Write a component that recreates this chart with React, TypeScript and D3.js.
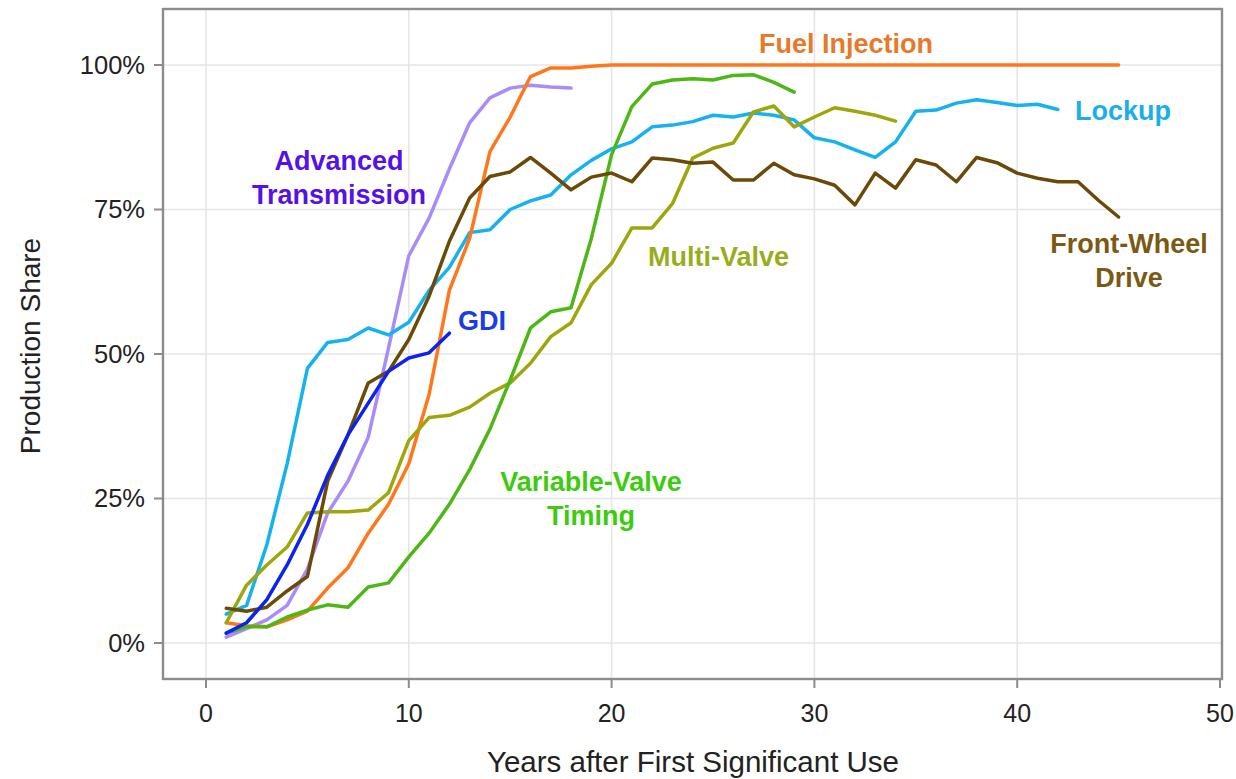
import React from "react";
import * as d3 from "d3";

// Values: production share (%) by year after first significant use (years start at 1)
const fuelInjection = [3.5, 3, 2.8, 4, 5.5, 9.5, 13, 19, 24, 31, 43, 61, 70, 85, 91, 98, 99.5, 99.5, 99.8, 100,
  100, 100, 100, 100, 100, 100, 100, 100, 100, 100, 100, 100, 100, 100, 100, 100, 100, 100, 100, 100, 100, 100, 100, 100, 100];
const lockup = [5, 6.5, 17, 31, 47.5, 52, 52.5, 54.5, 53.3, 55.5, 61, 65, 71, 71.5, 75, 76.5, 77.5, 81, 83.5, 85.5,
  86.7, 89.3, 89.6, 90.2, 91.3, 91, 91.7, 91.3, 90.5, 87.4, 86.7, 85.3, 84, 86.7, 92, 92.2, 93.4, 94, 93.5, 93, 93.2, 92.3];
const frontWheelDrive = [6, 5.5, 6.2, 9, 11.5, 28, 36, 45, 47, 52.5, 60, 69.5, 77, 80.7, 81.5, 84, 81.3, 78.4, 80.6, 81.3,
  79.8, 83.9, 83.6, 83, 83.2, 80.1, 80.1, 83, 81, 80.3, 79.2, 75.8, 81.3, 78.7, 83.6, 82.7, 79.8, 84, 83.1, 81.3, 80.4, 79.8, 79.8, 76.6, 73.7];
const multiValve = [3.5, 10, 13.5, 16.6, 22.5, 22.7, 22.7, 23, 26, 35, 39, 39.4, 40.8, 43.2, 45, 48.4, 53, 55.4, 62, 65.7,
  71.8, 71.8, 76, 83.9, 85.6, 86.5, 91.9, 92.9, 89.3, 91, 92.6, 92, 91.3, 90.3];
const variableValveTiming = [1.7, 2.8, 2.8, 4.5, 5.7, 6.6, 6.2, 9.7, 10.4, 14.9, 19, 24, 30, 37, 45.5, 54.5, 57.3, 58, 70, 84.5,
  92.8, 96.7, 97.4, 97.6, 97.4, 98.2, 98.3, 97, 95.3];
const advancedTransmission = [1, 2.5, 4, 6.5, 12.8, 22.5, 28, 35.6, 51, 67, 73.5, 82, 90, 94.3, 96, 96.5, 96.2, 96];
const gdi = [1.7, 3.5, 7.5, 13.5, 20.5, 29, 36, 41.5, 47, 49.3, 50.2, 53.6];

const xTicks = [0, 10, 20, 30, 40, 50];
const yTicks = [0, 25, 50, 75, 100];
const xTitle = "Years after First Significant Use";
const yTitle = "Production Share";

type Series = { name: string; values: number[]; line: string; label: string; labelLines: string[]; lx: number; ly: number; anchor: string };

const series: Series[] = [
  { name: "Advanced Transmission", values: advancedTransmission, line: "#A98BFA", label: "#5512E6", labelLines: ["Advanced", "Transmission"], lx: 339, ly: 170, anchor: "middle" },
  { name: "Lockup", values: lockup, line: "#15B2EF", label: "#1CAFE6", labelLines: ["Lockup"], lx: 1075, ly: 120, anchor: "start" },
  { name: "Fuel Injection", values: fuelInjection, line: "#FF771A", label: "#E8792B", labelLines: ["Fuel Injection"], lx: 846, ly: 53, anchor: "middle" },
  { name: "Multi-Valve", values: multiValve, line: "#9DA70C", label: "#99AD1C", labelLines: ["Multi-Valve"], lx: 648, ly: 266, anchor: "start" },
  { name: "Variable-Valve Timing", values: variableValveTiming, line: "#4DB815", label: "#3DCB10", labelLines: ["Variable-Valve", "Timing"], lx: 591, ly: 491, anchor: "middle" },
  { name: "Front-Wheel Drive", values: frontWheelDrive, line: "#6B4A08", label: "#7A5A12", labelLines: ["Front-Wheel", "Drive"], lx: 1129, ly: 253, anchor: "middle" },
  { name: "GDI", values: gdi, line: "#0B22F2", label: "#1B3DE4", labelLines: ["GDI"], lx: 458, ly: 330, anchor: "start" },
];

const W = 1236;
const H = 779;
const frame = { left: 163, top: 9, right: 1222, bottom: 679 };

export default function App() {
  const x = d3.scaleLinear().domain([0, 50]).range([206, 1220]);
  const y = d3.scaleLinear().domain([0, 100]).range([643, 65]);
  const line = d3.line<number>().x((_, i) => x(i + 1)).y((d) => y(d));
  const font = "'Liberation Sans', Arial, sans-serif";

  return (
    <svg width={W} height={H} style={{ position: "absolute", left: 0, top: 0, background: "#fff" }} fontFamily={font}>
      <rect x={0} y={0} width={W} height={H} fill="#fff" />
      {/* grid */}
      {xTicks.filter((t) => t < 50).map((t) => (
        <line key={"gx" + t} x1={x(t)} x2={x(t)} y1={frame.top} y2={frame.bottom} stroke="#E6E6E6" strokeWidth={1.6} />
      ))}
      {yTicks.map((t) => (
        <line key={"gy" + t} x1={frame.left} x2={frame.right} y1={y(t)} y2={y(t)} stroke="#E6E6E6" strokeWidth={1.6} />
      ))}
      {/* lines */}
      {series.map((s) => (
        <path key={s.name} d={line(s.values) || ""} fill="none" stroke={s.line} strokeWidth={3.5} strokeLinejoin="round" strokeLinecap="round" />
      ))}
      {/* frame */}
      <rect x={frame.left} y={frame.top} width={frame.right - frame.left} height={frame.bottom - frame.top} fill="none" stroke="#8C8C8C" strokeWidth={2.4} />
      {/* y ticks */}
      {yTicks.map((t) => (
        <g key={"yt" + t}>
          <line x1={frame.left - 9} x2={frame.left} y1={y(t)} y2={y(t)} stroke="#8C8C8C" strokeWidth={2} />
          <text x={145} y={y(t)} dy="0.35em" textAnchor="end" fontSize={25.5} fill="#222">{t + "%"}</text>
        </g>
      ))}
      {/* x ticks */}
      {xTicks.map((t) => (
        <g key={"xt" + t}>
          <line x1={x(t)} x2={x(t)} y1={frame.bottom} y2={frame.bottom + 9} stroke="#8C8C8C" strokeWidth={2} />
          <text x={x(t)} y={722} textAnchor="middle" fontSize={25} fill="#222">{t}</text>
        </g>
      ))}
      {/* axis titles */}
      <text x={693} y={772} textAnchor="middle" fontSize={29.5} fill="#222">{xTitle}</text>
      <text transform={`translate(40,346) rotate(-90)`} textAnchor="middle" fontSize={28} fill="#222">{yTitle}</text>
      {/* labels */}
      {series.map((s) => (
        <text key={"l" + s.name} x={s.lx} y={s.ly} textAnchor={s.anchor} fontSize={27} fontWeight="bold" fill={s.label}>
          {s.labelLines.map((l, i) => (
            <tspan key={i} x={s.lx} y={s.ly + i * 34}>{l}</tspan>
          ))}
        </text>
      ))}
    </svg>
  );
}
